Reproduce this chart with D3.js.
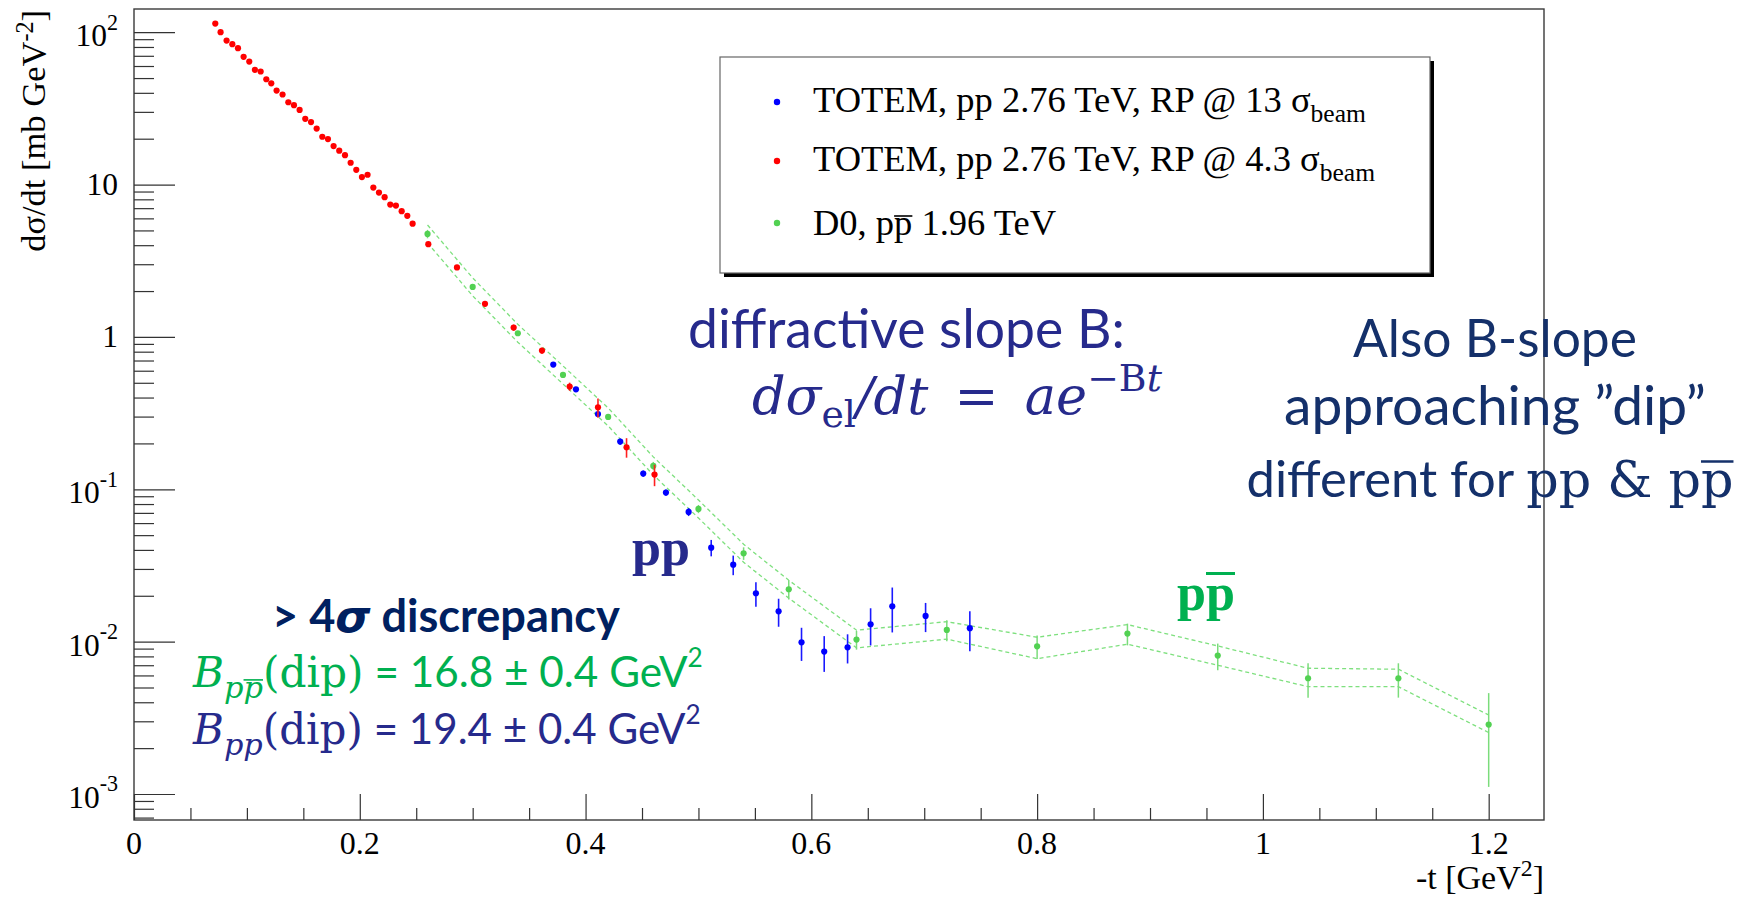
<!DOCTYPE html>
<html><head><meta charset="utf-8">
<script src="https://cdn.jsdelivr.net/npm/d3@7"></script>
<style>body{margin:0;background:#fff}</style>
</head><body>
<svg id="c" width="1753" height="899"></svg>
<script>
// ---------------- data ----------------
const redT=[0.0720,0.0767,0.0820,0.0871,0.0921,0.0971,0.1021,0.1071,0.1122,0.1172,0.1216,0.1263,0.1316,0.1367,0.1417,0.1467,0.1517,0.1568,0.1618,0.1668,0.1718,0.1768,0.1818,0.1869,0.1919,0.1969,0.2019,0.2069,0.2120,0.2170,0.2220,0.2270,0.2320,0.2371,0.2421,0.2468,0.2607,0.2861,0.3109,0.3363,0.3614,0.3859,0.4110,0.4363,0.4611];
const redV=[113.9,100,88.1,83.4,78.5,68.9,64.2,56.6,55.2,49.1,46.2,41.4,39.0,34.7,33.2,30.9,27.0,25.7,23.3,20.6,19.9,17.9,16.7,15.6,13.9,12.5,11.2,11.6,9.55,8.86,8.26,7.39,7.28,6.69,6.23,5.54,4.06,2.86,1.65,1.151,0.813,0.472,0.345,0.1888,0.1248];
const redErr=[2.8,2.5,2.2,2.1,2.0,1.7,1.6,1.4,1.4,1.2,1.2,1.0,1.0,0.87,0.83,0.77,0.68,0.64,0.58,0.52,0.5,0.45,0.42,0.39,0.35,0.31,0.28,0.29,0.24,0.22,0.21,0.18,0.18,0.17,0.16,0.14,0.12,0.09,0.05,0.053,0.037,0.029,0.050,0.0276,0.020];

const blueT=[0.3714,0.3915,0.4110,0.4307,0.4511,0.4712,0.4913,0.5113,0.5308,0.5509,0.5710,0.5913,0.6114,0.6321,0.6525,0.6717,0.7012,0.7404];
const blueV=[0.658,0.453,0.312,0.2056,0.1268,0.0951,0.0710,0.0414,0.0320,0.02077,0.01582,0.00990,0.00860,0.00918,0.01300,0.01707,0.01475,0.01225];
const blueErr=[0.02,0.014,0.009,0.0095,0.0059,0.0044,0.0043,0.0051,0.0047,0.0038,0.0033,0.00243,0.00227,0.00199,0.00356,0.00558,0.0032,0.00359];

const d0T=[0.26,0.30,0.34,0.38,0.42,0.46,0.50,0.54,0.58,0.64,0.72,0.80,0.88,0.96,1.04,1.12,1.20];
const d0V=[4.74,2.13,1.057,0.563,0.2985,0.1423,0.0743,0.0380,0.02207,0.01031,0.01194,0.00932,0.01129,0.00810,0.00575,0.00575,0.002853];
const d0Err=[0.30,0.065,0.032,0.017,0.009,0.0089,0.0046,0.0036,0.0032,0.00145,0.00189,0.00164,0.00184,0.00161,0.00146,0.00146,0.00174];
const d0BandHi=[5.43,2.44,1.21,0.645,0.342,0.1631,0.0851,0.0436,0.0253,0.01189,0.01352,0.01069,0.01294,0.00937,0.00669,0.00659,0.00330];
const d0BandLo=[4.14,1.86,0.923,0.491,0.2606,0.1242,0.0648,0.0332,0.0193,0.00910,0.01038,0.00773,0.00962,0.00700,0.00506,0.00506,0.00253];

const yMajorTicks=[1e-3,1e-2,1e-1,1,10,100];
const yTickBase=["10","10","10","1","10","10"];
const yTickExp=["-3","-2","-1","","","2"];
const xMajorTicks=[0,0.2,0.4,0.6,0.8,1.0,1.2];
const xTickLabels=["0","0.2","0.4","0.6","0.8","1","1.2"];
const legendMain=["TOTEM, pp 2.76 TeV, RP @ 13 \u03c3","TOTEM, pp 2.76 TeV, RP @ 4.3 \u03c3"];
const legendSub=["beam","beam"];
const seriesColors={blue:"#0000ff",red:"#ff0000",green:"#52d152"};

// ---------------- setup ----------------
const W=1753,H=899;
const svg=d3.select('#c');
svg.append('rect').attr('width',W).attr('height',H).attr('fill','#fff');
const X0=134,X1=1544,Y0=9,Y1=820;
const x=d3.scaleLinear().domain([0,1.249]).range([X0,X1]);
const y=d3.scaleLog().domain([6.75e-4,142]).range([Y1,Y0]);
const SERIF="Liberation Serif, Times New Roman, serif";
const SANS="Lato, 'Open Sans', sans-serif";
const MATH="DejaVu Serif, serif";

// frame
svg.append('rect').attr('x',X0).attr('y',Y0).attr('width',X1-X0).attr('height',Y1-Y0)
  .attr('fill','none').attr('stroke','#3a3a3a').attr('stroke-width',1.4);

// ticks via axes
const yMinor=[];
for(let d=-4;d<=2;d++)for(let k=2;k<=9;k++){const v=k*Math.pow(10,d);if(v>=6.75e-4&&v<=142)yMinor.push(v);}
const xMinor=d3.range(0.05,1.249,0.05).filter(v=>Math.abs(v/0.2-Math.round(v/0.2))>1e-6);
function styleAxis(g){g.select('.domain').remove();g.selectAll('.tick line').attr('stroke','#333').attr('stroke-width',1.2);g.selectAll('.tick text').remove();}
svg.append('g').attr('transform',`translate(${X0},0)`).call(d3.axisLeft(y).tickValues(yMinor).tickSize(-20).tickFormat('')).call(styleAxis);
svg.append('g').attr('transform',`translate(${X0},0)`).call(d3.axisLeft(y).tickValues(yMajorTicks).tickSize(-41).tickFormat('')).call(styleAxis);
svg.append('g').attr('transform',`translate(0,${Y1})`).call(d3.axisBottom(x).tickValues(xMinor).tickSize(-12).tickFormat('')).call(styleAxis);
svg.append('g').attr('transform',`translate(0,${Y1})`).call(d3.axisBottom(x).tickValues(xMajorTicks).tickSize(-26).tickFormat('')).call(styleAxis);

// tick labels
yMajorTicks.forEach((v,i)=>{
  const t=svg.append('text').attr('x',118).attr('y',y(v)+10+(yTickExp[i]?4:0))
    .attr('text-anchor','end').attr('font-family',SERIF).attr('font-size',31.5).attr('fill','#000');
  t.append('tspan').text(yTickBase[i]);
  if(yTickExp[i]) t.append('tspan').attr('font-size','70%').attr('dy','-0.75em').text(yTickExp[i]);
});
xMajorTicks.forEach((v,i)=>{
  svg.append('text').attr('x',x(v)).attr('y',854).attr('text-anchor','middle')
    .attr('font-family',SERIF).attr('font-size',32).attr('fill','#000').text(xTickLabels[i]);
});
// axis titles
{
  const t=svg.append('text').attr('transform','translate(45,10) rotate(-90)').attr('text-anchor','end')
    .attr('font-family',SERIF).attr('font-size',34.5).attr('fill','#000');
  t.append('tspan').text('d\u03c3/dt [mb GeV');
  t.append('tspan').attr('font-size','70%').attr('dy','-0.5em').text('-2');
  t.append('tspan').attr('dy','0.35em').text(']');
  const tx=svg.append('text').attr('x',X1).attr('y',889).attr('text-anchor','end')
    .attr('font-family',SERIF).attr('font-size',34).attr('fill','#000');
  tx.append('tspan').text('-t [GeV');
  tx.append('tspan').attr('font-size','70%').attr('dy','-0.55em').text('2');
  tx.append('tspan').attr('dy','0.385em').text(']');
}

// ---------------- data marks ----------------
const d0=d0T.map((t,i)=>({t,v:d0V[i],e:d0Err[i],hi:d0BandHi[i],lo:d0BandLo[i]}));
const bandLine=key=>d3.line().x(d=>x(d.t)).y(d=>y(d[key]));
['hi','lo'].forEach(k=>svg.append('path').datum(d0).attr('d',bandLine(k)).attr('fill','none')
  .attr('stroke','#7ee07e').attr('stroke-width',1.3).attr('stroke-dasharray','4,3'));

function drawSeries(T,V,E,color,barColor,bw){
  const data=T.map((t,i)=>({t,v:V[i],e:E[i]}));
  const g=svg.append('g');
  g.selectAll('line').data(data).join('line')
    .attr('x1',d=>x(d.t)).attr('x2',d=>x(d.t)).attr('y1',d=>y(d.v+d.e)).attr('y2',d=>y(d.v-d.e))
    .attr('stroke',barColor).attr('stroke-width',bw);
  g.selectAll('circle').data(data).join('circle')
    .attr('cx',d=>x(d.t)).attr('cy',d=>y(d.v)).attr('r',3.1).attr('fill',color);
}
drawSeries(d0T,d0V,d0Err,seriesColors.green,'#7bdc7b',1.5);
drawSeries(blueT,blueV,blueErr,seriesColors.blue,'#1a1aff',1.6);
drawSeries(redT,redV,redErr,seriesColors.red,'#ff2020',1.6);

// ---------------- legend ----------------
svg.append('rect').attr('x',724).attr('y',61).attr('width',710).attr('height',216).attr('fill','#000');
svg.append('rect').attr('x',720).attr('y',57).attr('width',710).attr('height',216).attr('fill','#fff')
  .attr('stroke','#666').attr('stroke-width',1.2);
const legColors=[seriesColors.blue,seriesColors.red,seriesColors.green];
const legY=[102,161,223];
legColors.forEach((c,i)=>svg.append('circle').attr('cx',777).attr('cy',legY[i]).attr('r',3.2).attr('fill',c));
function overline(sel,idx,raise,thick,color){
  const n=sel.node();
  const s=n.getStartPositionOfChar(idx),e=n.getEndPositionOfChar(idx);
  svg.append('line').attr('x1',s.x).attr('x2',e.x).attr('y1',s.y-raise).attr('y2',s.y-raise)
    .attr('stroke',color).attr('stroke-width',thick);
}
legendMain.forEach((txt,i)=>{
  const t=svg.append('text').attr('x',813).attr('y',legY[i]+10).attr('font-family',SERIF).attr('font-size',36.5).attr('fill','#000');
  t.append('tspan').text(txt);
  t.append('tspan').attr('font-size','70%').attr('dy','0.4em').text(legendSub[i]);
});
{
  const t=svg.append('text').attr('x',813).attr('y',legY[2]+12).attr('font-family',SERIF).attr('font-size',36.5).attr('fill','#000')
    .text('D0, pp 1.96 TeV');
  overline(t,5,19,1.6,'#000');
}

// ---------------- annotations ----------------
const INDIGO='#262a8c', NAVY='#002060', NAVY2='#14306a', GREEN='#00b050';
function fit(sel,target){const w=sel.node().getBBox().width;const fs=parseFloat(sel.attr('font-size'));sel.attr('font-size',fs*target/w);}

// diffractive slope
{
  const t=svg.append('text').attr('x',688).attr('y',348).attr('font-family',SANS).attr('font-size',46).attr('fill',INDIGO)
    .text('diffractive slope B:');
  fit(t,437);
}
// formula
{
  const t=svg.append('text').attr('x',752).attr('y',414).attr('font-family',MATH).attr('font-size',48).attr('fill',INDIGO);
  t.append('tspan').attr('font-style','italic').text('d\u03c3');
  t.append('tspan').attr('font-size','72%').attr('dy','0.35em').text('el');
  t.append('tspan').attr('font-style','italic').attr('dy','-0.252em').text('/dt\u2002=\u2002ae');
  t.append('tspan').attr('font-size','72%').attr('dy','-0.6em').text('\u2212B');
  t.append('tspan').attr('font-size','72%').attr('font-style','italic').text('t');
  fit(t,410);
}
// right block
{
  const cx=1495;
  const t1=svg.append('text').attr('x',cx).attr('y',357).attr('text-anchor','middle').attr('font-family',SANS).attr('font-size',50).attr('fill',NAVY2).text('Also B-slope');
  fit(t1,284);
  const t2=svg.append('text').attr('x',cx).attr('y',425).attr('text-anchor','middle').attr('font-family',SANS).attr('font-size',50).attr('fill',NAVY2).text('approaching \u201ddip\u201d');
  fit(t2,422);
  const t3=svg.append('text').attr('x',1490).attr('y',497).attr('text-anchor','middle').attr('font-family',SANS).attr('font-size',50).attr('fill',NAVY2);
  t3.append('tspan').text('different for ');
  t3.append('tspan').attr('font-family',MATH).text('pp & pp');
  fit(t3,487);
  const fs=parseFloat(t3.attr('font-size'));
  overline(t3,20,fs*0.7,2.4,NAVY2);
}
// pp / ppbar labels
{
  const t=svg.append('text').attr('x',632).attr('y',565).attr('font-family',SERIF).attr('font-weight','bold').attr('font-size',52).attr('fill',INDIGO).text('pp');
  fit(t,58);
  const g=svg.append('text').attr('x',1177).attr('y',610).attr('font-family',SERIF).attr('font-weight','bold').attr('font-size',52).attr('fill',GREEN).text('pp');
  fit(g,58);
  overline(g,1,parseFloat(g.attr('font-size'))*0.7,3,GREEN);
}
// discrepancy block
{
  const t=svg.append('text').attr('x',272).attr('y',632).attr('font-family',SANS).attr('font-weight','bold').attr('font-size',36).attr('fill',NAVY);
  t.append('tspan').text('> 4');
  t.append('tspan').attr('font-family','DejaVu Sans').attr('font-style','italic').text('\u03c3');
  t.append('tspan').text(' discrepancy');
  fit(t,348);

  function bline(yb,sub,barIdx,rest,color,target){
    const b=svg.append('text').attr('x',193).attr('y',yb).attr('font-size',38).attr('fill',color);
    b.append('tspan').attr('font-family',MATH).attr('font-style','italic').text('B');
    b.append('tspan').attr('font-family',MATH).attr('font-style','italic').attr('font-size','72%').attr('dy','0.35em').text(sub);
    b.append('tspan').attr('font-family',MATH).attr('dy','-0.252em').text('(dip)');
    b.append('tspan').attr('font-family',SANS).text(rest);
    b.append('tspan').attr('font-family',SANS).attr('font-size','62%').attr('dy','-0.75em').text('2');
    fit(b,target);
    if(barIdx!==null){const fs=parseFloat(b.attr('font-size'));overline(b,barIdx,fs*0.42,1.6,color);}
  }
  bline(687,'pp',2,' = 16.8 \u00b1 0.4 GeV',GREEN,511);
  bline(744,'pp',null,' = 19.4 \u00b1 0.4 GeV',INDIGO,509);
}
</script>
</body></html>
